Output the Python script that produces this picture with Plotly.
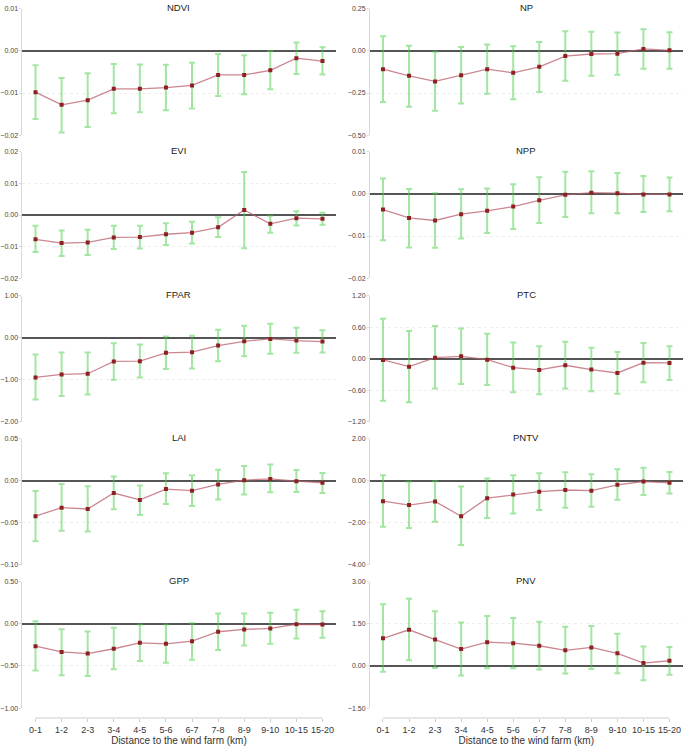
import plotly.graph_objects as go

categories = ["0-1", "1-2", "2-3", "3-4", "4-5", "5-6", "6-7", "7-8", "8-9", "9-10", "10-15", "15-20"]

ndvi_mean = [-0.0098, -0.0128, -0.0117, -0.0090, -0.0090, -0.0087, -0.0082, -0.0057, -0.0057, -0.0046, -0.0017, -0.0024]
ndvi_low = [-0.0162, -0.0194, -0.0181, -0.0148, -0.0146, -0.0141, -0.0137, -0.0107, -0.0103, -0.0091, -0.0055, -0.0056]
ndvi_high = [-0.0034, -0.0064, -0.0053, -0.0031, -0.0032, -0.0033, -0.0028, -0.0007, -0.0010, 0.0000, 0.0020, 0.0009]

np_mean = [-0.108, -0.148, -0.181, -0.144, -0.108, -0.130, -0.094, -0.030, -0.018, -0.016, 0.012, 0.004]
np_low = [-0.303, -0.331, -0.356, -0.313, -0.254, -0.287, -0.244, -0.177, -0.148, -0.142, -0.106, -0.106]
np_high = [0.087, 0.031, -0.004, 0.024, 0.039, 0.028, 0.053, 0.118, 0.114, 0.110, 0.130, 0.112]

evi_mean = [-0.0077, -0.0089, -0.0087, -0.0071, -0.0070, -0.0061, -0.0056, -0.0039, 0.0016, -0.0028, -0.0010, -0.0012]
evi_low = [-0.0117, -0.0130, -0.0127, -0.0108, -0.0106, -0.0095, -0.0090, -0.0070, -0.0105, -0.0056, -0.0033, -0.0031]
evi_high = [-0.0034, -0.0049, -0.0047, -0.0034, -0.0034, -0.0026, -0.0021, -0.0007, 0.0136, -0.0002, 0.0012, 0.0007]

npp_mean = [-0.0037, -0.0057, -0.0063, -0.0048, -0.0040, -0.0030, -0.0015, -0.0002, 0.0003, 0.0002, -0.0001, -0.0001]
npp_low = [-0.0110, -0.0127, -0.0128, -0.0106, -0.0093, -0.0083, -0.0069, -0.0055, -0.0046, -0.0046, -0.0043, -0.0041]
npp_high = [0.0037, 0.0012, 0.0002, 0.0011, 0.0013, 0.0023, 0.0040, 0.0053, 0.0054, 0.0050, 0.0043, 0.0039]

fpar_mean = [-0.945, -0.874, -0.858, -0.567, -0.559, -0.362, -0.346, -0.189, -0.087, -0.031, -0.071, -0.094]
fpar_low = [-1.47, -1.39, -1.35, -1.00, -0.945, -0.748, -0.732, -0.559, -0.441, -0.386, -0.362, -0.354]
fpar_high = [-0.40, -0.354, -0.354, -0.134, -0.165, 0.024, 0.047, 0.189, 0.283, 0.331, 0.236, 0.173]

ptc_mean = [-0.025, -0.152, 0.019, 0.044, -0.019, -0.171, -0.215, -0.126, -0.208, -0.272, -0.076, -0.082]
ptc_low = [-0.802, -0.827, -0.568, -0.480, -0.499, -0.638, -0.676, -0.568, -0.619, -0.669, -0.448, -0.404]
ptc_high = [0.758, 0.524, 0.619, 0.575, 0.474, 0.309, 0.234, 0.322, 0.208, 0.126, 0.297, 0.234]

lai_mean = [-0.0422, -0.0320, -0.0336, -0.0145, -0.0227, -0.0098, -0.0117, -0.0043, 0.0008, 0.0023, -0.0004, -0.0023]
lai_low = [-0.0719, -0.0594, -0.0605, -0.0340, -0.0406, -0.0277, -0.0301, -0.0223, -0.0164, -0.0137, -0.0133, -0.0145]
lai_high = [-0.0121, -0.0039, -0.0066, 0.0051, -0.0055, 0.0090, 0.0066, 0.0133, 0.0176, 0.0195, 0.0129, 0.0094]

pntv_mean = [-0.969, -1.156, -0.984, -1.688, -0.828, -0.656, -0.516, -0.438, -0.469, -0.188, -0.031, -0.094]
pntv_low = [-2.19, -2.25, -1.95, -3.06, -1.77, -1.56, -1.39, -1.28, -1.23, -0.906, -0.672, -0.609]
pntv_high = [0.266, -0.047, -0.016, -0.266, 0.109, 0.266, 0.359, 0.406, 0.313, 0.547, 0.625, 0.422]

gpp_mean = [-0.264, -0.333, -0.353, -0.295, -0.225, -0.236, -0.205, -0.093, -0.066, -0.054, -0.004, -0.008]
gpp_low = [-0.554, -0.609, -0.620, -0.539, -0.442, -0.461, -0.426, -0.310, -0.256, -0.236, -0.174, -0.163]
gpp_high = [0.031, -0.062, -0.089, -0.047, -0.008, -0.008, 0.008, 0.124, 0.124, 0.132, 0.167, 0.151]

pnv_mean = [0.988, 1.291, 0.942, 0.605, 0.849, 0.814, 0.721, 0.558, 0.663, 0.453, 0.105, 0.186]
pnv_low = [-0.209, 0.209, -0.070, -0.337, -0.081, -0.081, -0.128, -0.267, -0.105, -0.256, -0.512, -0.314]
pnv_high = [2.198, 2.395, 1.953, 1.547, 1.779, 1.709, 1.581, 1.395, 1.430, 1.151, 0.698, 0.674]

panel_names = ["NDVI", "NP", "EVI", "NPP", "FPAR", "PTC", "LAI", "PNTV", "GPP", "PNV"]
panel_data = [
    (ndvi_mean, ndvi_low, ndvi_high),
    (np_mean, np_low, np_high),
    (evi_mean, evi_low, evi_high),
    (npp_mean, npp_low, npp_high),
    (fpar_mean, fpar_low, fpar_high),
    (ptc_mean, ptc_low, ptc_high),
    (lai_mean, lai_low, lai_high),
    (pntv_mean, pntv_low, pntv_high),
    (gpp_mean, gpp_low, gpp_high),
    (pnv_mean, pnv_low, pnv_high),
]
y_ranges = [(-0.02, 0.01), (-0.5, 0.25), (-0.02, 0.02), (-0.02, 0.01), (-2.0, 1.0),
            (-1.2, 1.2), (-0.10, 0.05), (-4.0, 2.0), (-1.0, 0.5), (-1.5, 3.0)]
y_dticks = [0.01, 0.25, 0.01, 0.01, 1.0, 0.6, 0.05, 2.0, 0.5, 1.5]

W, H = 685, 749
col_px = [(21.5, 335.0), (369.5, 682.5)]
row_px = [(5.0, 132.3), (149.3, 276.7), (294.3, 421.7), (439.0, 566.0), (583.3, 710.7)]
xaxis_line_px = 720.7

FONT = "Arial, Liberation Sans, sans-serif"
LINE_COLOR = "rgba(185,95,105,0.75)"
MARKER_COLOR = "#8e1f24"
ERR_COLOR = "rgba(70,205,70,0.5)"

fig = go.Figure()
layout = dict(
    width=W, height=H,
    margin=dict(l=0, r=0, t=0, b=0),
    paper_bgcolor="white", plot_bgcolor="white",
    showlegend=False,
    font=dict(family=FONT, color="#333"),
    annotations=[], shapes=[],
)

for i, name in enumerate(panel_names):
    n = i + 1
    r, c = divmod(i, 2)
    xs = "" if n == 1 else str(n)
    mean, low, high = panel_data[i]
    plus = [h - m for h, m in zip(high, mean)]
    minus = [m - l for m, l in zip(mean, low)]
    fig.add_trace(go.Scatter(
        x=categories, y=mean, mode="markers",
        marker=dict(size=1, opacity=0),
        error_y=dict(type="data", symmetric=False, array=plus, arrayminus=minus,
                     color=ERR_COLOR, thickness=2, width=3),
        xaxis="x" + xs, yaxis="y" + xs, hoverinfo="skip",
    ))
    fig.add_trace(go.Scatter(
        x=categories, y=mean, mode="lines+markers",
        line=dict(color=LINE_COLOR, width=1.3),
        marker=dict(color=MARKER_COLOR, size=4, symbol="square"),
        xaxis="x" + xs, yaxis="y" + xs, name=name,
    ))

    x0, x1 = col_px[c]
    top, bot = row_px[r]
    xdom = [x0 / W, x1 / W]
    ydom = [1 - bot / H, 1 - top / H]
    lo, hi = y_ranges[i]
    span = hi - lo
    is_bottom = (r == 4)

    xa = dict(
        domain=xdom, type="category", range=[-0.5, len(categories) - 0.5],
        showgrid=False, zeroline=False, showline=False, fixedrange=True,
    )
    if is_bottom:
        xa.update(
            anchor="free", position=1 - xaxis_line_px / H,
            ticks="outside", ticklen=3, tickcolor="#cccccc", tickwidth=1,
            showticklabels=True, tickfont=dict(size=9, color="#333", family=FONT),
            title=dict(text="Distance to the wind farm (km)", font=dict(size=10, color="#333", family=FONT), standoff=0),
        )
        layout["shapes"].append(dict(
            type="line", xref="x" + xs, yref="paper",
            x0=categories[0], x1=categories[-1],
            y0=1 - xaxis_line_px / H, y1=1 - xaxis_line_px / H,
            line=dict(color="#cccccc", width=1), layer="below",
        ))
    else:
        xa.update(anchor="y" + xs, ticks="", showticklabels=False)

    ya = dict(
        domain=ydom, anchor="x" + xs,
        range=[lo - span * 1e-6, hi + span * 1e-6],
        tick0=0, dtick=y_dticks[i], tickformat=".2f",
        showline=True, linecolor="#d8d8d8", linewidth=1,
        ticks="outside", ticklen=2, tickcolor="#d8d8d8",
        tickfont=dict(size=7, color="#444", family=FONT),
        showgrid=True, gridcolor="#eeeeee", griddash="dot", gridwidth=1,
        zeroline=True, zerolinecolor="#555555", zerolinewidth=1.5,
        fixedrange=True,
    )
    layout["xaxis" + xs] = xa
    layout["yaxis" + xs] = ya

    layout["annotations"].append(dict(
        text=name, xref="paper", yref="paper",
        x=(xdom[0] + xdom[1]) / 2, y=ydom[1],
        xanchor="center", yanchor="middle", yshift=1, showarrow=False,
        font=dict(size=9.5, color="#222", family=FONT),
    ))

fig.update_layout(**layout)
fig.write_html(
    "out.html",
    config={"displayModeBar": False},
    post_script="document.body.style.margin='0';document.body.style.padding='0';document.documentElement.style.overflow='hidden';",
)
